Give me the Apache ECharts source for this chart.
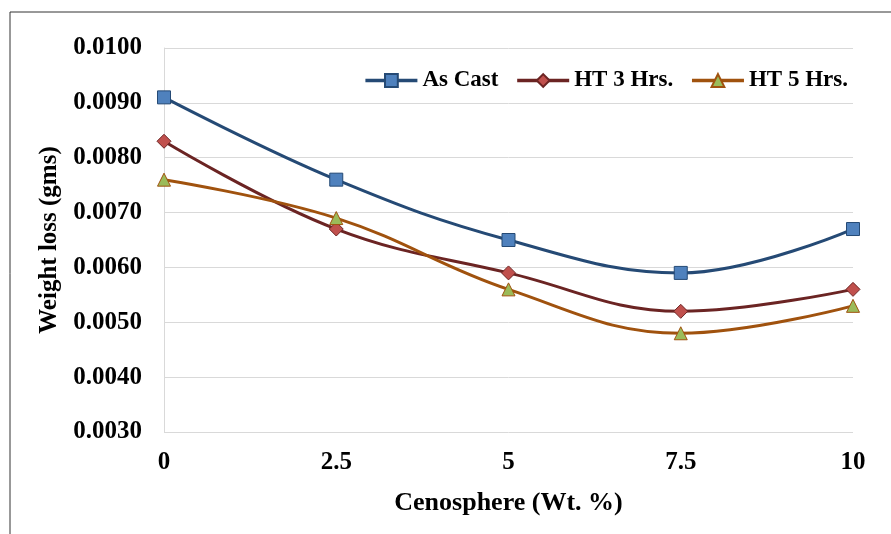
<!DOCTYPE html>
<html>
<head>
<meta charset="utf-8">
<script src="https://cdn.jsdelivr.net/npm/echarts@6/dist/echarts.min.js"></script>
<style>
  html, body { margin: 0; padding: 0; background: #fff; }
  #chart { width: 891px; height: 534px; }
</style>
</head>
<body>
<div id="chart"></div>
<script>
// values
const xValues = [0, 2.5, 5, 7.5, 10];
const asCast = [0.0091, 0.0076, 0.0065, 0.0059, 0.0067];
const ht3 = [0.0083, 0.0067, 0.0059, 0.0052, 0.0056];
const ht5 = [0.0076, 0.0069, 0.0056, 0.0048, 0.0053];

const font = "'Liberation Serif', 'Times New Roman', serif";

const pairs = (ys) => xValues.map((x, i) => [x, ys[i]]);

const chart = echarts.init(document.getElementById("chart"));

const makeSeries = (name, ys, lineColor, fill, symbol, size) => ({
  name: name,
  type: "line",
  data: pairs(ys),
  smooth: 0.4,
  symbol: symbol,
  symbolSize: size,
  lineStyle: { color: lineColor, width: 3 },
  itemStyle: { color: fill, borderColor: lineColor, borderWidth: 1 },
  emphasis: { disabled: true }
});

chart.setOption({
  animation: false,
  graphic: [
    {
      type: "rect",
      shape: { x: 10, y: 12, width: 900, height: 540 },
      style: { fill: "none", stroke: "#333", lineWidth: 1 }
    }
  ],
  legend: {
    top: 64,
    right: 38,
    itemWidth: 52,
    itemHeight: 16,
    itemGap: 17,
    lineStyle: { width: 3.5 },
    textStyle: { fontFamily: font, fontWeight: "bold", fontSize: 23, color: "#000" },
    data: ["As Cast", "HT 3 Hrs.", "HT 5 Hrs."]
  },
  grid: { left: 164, right: 38, top: 48, bottom: 102 },
  xAxis: {
    type: "value",
    min: 0,
    max: 10,
    interval: 2.5,
    name: "Cenosphere (Wt. %)",
    nameLocation: "middle",
    nameGap: 58,
    nameTextStyle: { fontFamily: font, fontWeight: "bold", fontSize: 26, color: "#000" },
    axisLine: { show: false },
    axisTick: { show: false },
    splitLine: { show: false },
    axisLabel: {
      fontFamily: font, fontWeight: "bold", fontSize: 25, color: "#000", margin: 18,
      formatter: (v) => String(v)
    }
  },
  yAxis: {
    type: "value",
    min: 0.003,
    max: 0.01,
    interval: 0.001,
    name: "Weight loss (gms)",
    nameLocation: "middle",
    nameGap: 95,
    nameTextStyle: { fontFamily: font, fontWeight: "bold", fontSize: 25, color: "#000" },
    axisLine: { show: true, lineStyle: { color: "#d9d9d9", width: 1 } },
    axisTick: { show: false },
    splitLine: { lineStyle: { color: "#d9d9d9", width: 1 } },
    axisLabel: {
      fontFamily: font, fontWeight: "bold", fontSize: 25, color: "#000", margin: 22,
      formatter: (v) => v.toFixed(4)
    }
  },
  series: [
    makeSeries("As Cast", asCast, "#254a75", "#4f81bd", "rect", 13),
    makeSeries("HT 3 Hrs.", ht3, "#6b2423", "#c0504d", "diamond", 14),
    makeSeries("HT 5 Hrs.", ht5, "#a0520e", "#9bbb59", "triangle", 13)
  ]
});
</script>
</body>
</html>
